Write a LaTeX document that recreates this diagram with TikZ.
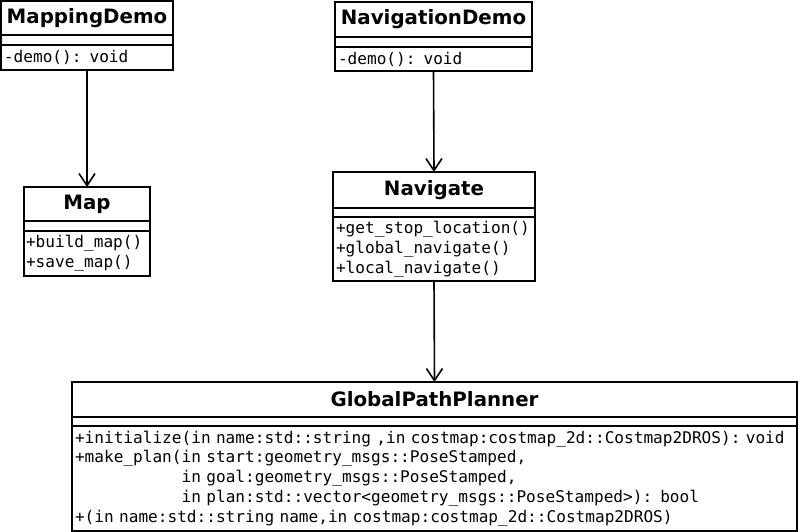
\documentclass[tikz,border=0pt]{standalone}
\usepackage{fontspec}
\setsansfont{DejaVu Sans}
\setmonofont{DejaVu Sans Mono}
\usetikzlibrary{arrows.meta, positioning}
\newcommand\fixedspaces{\spaceskip=\fontcharwd\font 120\relax}

\tikzset{
  classbox/.style={draw, line width=1.8pt, inner sep=0pt, outer sep=0pt, anchor=north west},
  classname/.style={classbox, font=\sffamily\bfseries\fontsize{19.8}{22}\selectfont},
  classattr/.style={classbox, minimum height=10pt},
  classops/.style={classbox, inner xsep=3pt, align=left,
    font=\ttfamily\fontsize{16.1}{19.8}\selectfont\fixedspaces},
  dep/.style={-{Straight Barb[length=12pt, width=16pt, line width=1.6pt]}, line width=1.6pt}
}

\begin{document}
\begin{tikzpicture}[x=1pt, y=-1pt]
    \useasboundingbox (0,0) rectangle (800,532);
    % MappingDemo
    \node[classname, minimum width=172pt, minimum height=34pt] (mdT) at (1,1) {MappingDemo};
    \node[classattr, minimum width=172pt, below=0pt of mdT.south west, anchor=north west] (mdA) {};
    \node[classops, text width=166pt, minimum height=25pt, below=0pt of mdA.south west, anchor=north west] (mdM) {-demo(): void};
    % NavigationDemo
    \node[classname, minimum width=197pt, minimum height=35pt] (ndT) at (335,2) {NavigationDemo};
    \node[classattr, minimum width=197pt, below=0pt of ndT.south west, anchor=north west] (ndA) {};
    \node[classops, text width=191pt, minimum height=24pt, below=0pt of ndA.south west, anchor=north west] (ndM) {-demo(): void};
    % Map
    \node[classname, minimum width=126pt, minimum height=34pt] (mapT) at (24,187) {Map};
    \node[classattr, minimum width=126pt, below=0pt of mapT.south west, anchor=north west] (mapA) {};
    \node[classops, inner xsep=2pt, text width=122pt, minimum height=45pt, below=0pt of mapA.south west, anchor=north west] (mapM) {+build\_map()\\+save\_map()};
    % Navigate
    \node[classname, minimum width=202pt, minimum height=36pt] (navT) at (333,172) {Navigate};
    \node[classattr, minimum width=202pt, minimum height=9pt, below=0pt of navT.south west, anchor=north west] (navA) {};
    \node[classops, text width=196pt, minimum height=64pt, below=0pt of navA.south west, anchor=north west] (navM) {+get\_stop\_location()\\+global\_navigate()\\+local\_navigate()};
    % GlobalPathPlanner
    \node[classname, minimum width=725pt, minimum height=35pt] (gpT) at (72,382) {GlobalPathPlanner};
    \node[classattr, minimum width=725pt, minimum height=9pt, below=0pt of gpT.south west, anchor=north west] (gpA) {};
    \node[classops, text width=719pt, minimum height=105pt, below=0pt of gpA.south west, anchor=north west] (gpM) {%
      +initialize(in name:std::string ,in costmap:costmap\_2d::Costmap2DROS): void\\
      +make\_plan(in start:geometry\_msgs::PoseStamped,\\
      \phantom{+make\_plan(}in goal:geometry\_msgs::PoseStamped,\\
      \phantom{+make\_plan(}in plan:std::vector<geometry\_msgs::PoseStamped>): bool\\
      +(in name:std::string name,in costmap:costmap\_2d::Costmap2DROS)};
    % Dependencies
    \draw[dep] (mdM.south) -- (mapT.north);
    \draw[dep] (ndM.south) -- (navT.north);
    \draw[dep] (navM.south) -- (gpT.north);
\end{tikzpicture}
\end{document}
